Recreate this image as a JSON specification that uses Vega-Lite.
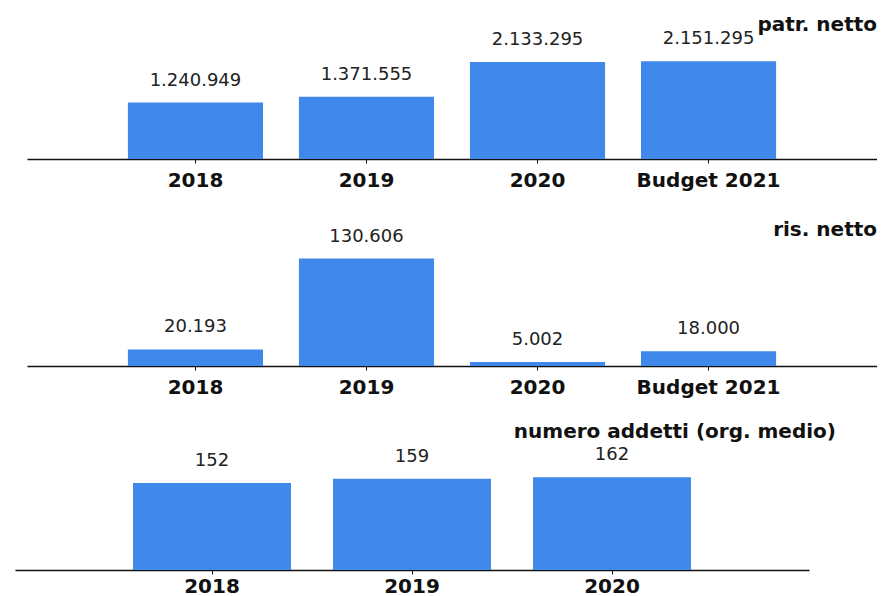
{
  "$schema": "https://vega.github.io/schema/vega-lite/v6.json",
  "padding": {"left": 15, "top": 15, "right": 0, "bottom": 0},
  "background": "white",
  "bounds": "flush",
  "spacing": 63,
  "config": {
    "view": {"stroke": null},
    "locale": {"number": {"decimal": ",", "thousands": ".", "grouping": [3], "currency": ["€", ""]}},
    "axisX": {
      "domainColor": "#111111", "domainWidth": 1.5, "tickColor": "#111111", "tickSize": 4, "tickWidth": 1,
      "labelFont": "DejaVu Sans", "labelFontSize": 20, "labelFontWeight": "bold", "labelColor": "#111111",
      "labelPadding": 7, "labelAngle": 0, "grid": false, "title": null
    },
    "title": {"font": "DejaVu Sans", "fontSize": 20, "fontWeight": "bold", "color": "#111111"}
  },
  "vconcat": [
    {
      "width": 862, "height": 139,
      "title": {"text": "patr. netto", "anchor": "end", "frame": "group", "orient": "top", "offset": -31, "baseline": "alphabetic"},
      "data": {"values": [
        {"anno": "2018", "valore": 1240949},
        {"anno": "2019", "valore": 1371555},
        {"anno": "2020", "valore": 2133295},
        {"anno": "Budget 2021", "valore": 2151295}
      ]},
      "encoding": {
        "x": {"field": "anno", "type": "nominal", "sort": null, "scale": {"range": [12, 862], "paddingInner": 0.21, "paddingOuter": 0.59}},
        "y": {"field": "valore", "type": "quantitative", "scale": {"domain": [0, 3058000]}, "axis": null}
      },
      "layer": [
        {"mark": {"type": "bar", "color": "#4188EB"}},
        {"mark": {"type": "text", "baseline": "alphabetic", "dy": -17, "font": "DejaVu Sans", "fontSize": 18, "color": "#222222"},
         "encoding": {"text": {"field": "valore", "type": "quantitative", "format": ",d"}}}
      ]
    },
    {
      "width": 862, "height": 144,
      "title": {"text": "ris. netto", "anchor": "end", "frame": "group", "orient": "top", "offset": -34, "baseline": "alphabetic"},
      "data": {"values": [
        {"anno": "2018", "valore": 20193},
        {"anno": "2019", "valore": 130606},
        {"anno": "2020", "valore": 5002},
        {"anno": "Budget 2021", "valore": 18000}
      ]},
      "encoding": {
        "x": {"field": "anno", "type": "nominal", "sort": null, "scale": {"range": [12, 862], "paddingInner": 0.21, "paddingOuter": 0.59}},
        "y": {"field": "valore", "type": "quantitative", "scale": {"domain": [0, 175000]}, "axis": null}
      },
      "layer": [
        {"mark": {"type": "bar", "color": "#4188EB"}},
        {"mark": {"type": "text", "baseline": "alphabetic", "dy": -17, "font": "DejaVu Sans", "fontSize": 18, "color": "#222222"},
         "encoding": {"text": {"field": "valore", "type": "quantitative", "format": ",d"}}}
      ]
    },
    {
      "width": 794, "height": 141,
      "title": {"text": "numero addetti (org. medio)", "anchor": "end", "frame": "group", "orient": "top", "offset": -29, "dx": 27, "baseline": "alphabetic"},
      "data": {"values": [
        {"anno": "2018", "valore": 152},
        {"anno": "2019", "valore": 159},
        {"anno": "2020", "valore": 162}
      ]},
      "encoding": {
        "x": {"field": "anno", "type": "nominal", "sort": null, "scale": {"paddingInner": 0.21, "paddingOuter": 0.59}, "axis": {"labelPadding": 2}},
        "y": {"field": "valore", "type": "quantitative", "scale": {"domain": [0, 246]}, "axis": null}
      },
      "layer": [
        {"mark": {"type": "bar", "color": "#4188EB"}},
        {"mark": {"type": "text", "baseline": "alphabetic", "dy": -17, "font": "DejaVu Sans", "fontSize": 18, "color": "#222222"},
         "encoding": {"text": {"field": "valore", "type": "quantitative", "format": ",d"}}}
      ]
    }
  ]
}
